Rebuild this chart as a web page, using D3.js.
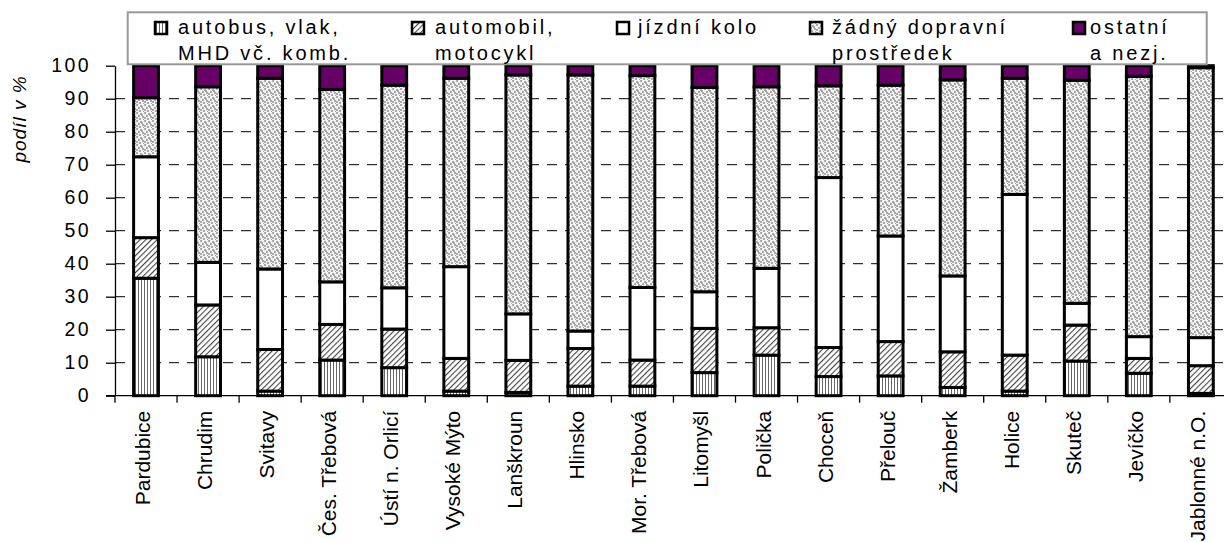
<!DOCTYPE html>
<html lang="cs">
<head>
<meta charset="UTF-8">
<script src="https://d3js.org/d3.v7.min.js"></script>
<style>
  body { margin: 0; background: #fff; }
  text { font-family: "Liberation Sans", Arial, sans-serif; }
</style>
</head>
<body>
<script>
// data (share in %)
var categories = ["Pardubice", "Chrudim", "Svitavy", "Čes. Třebová", "Ústí n. Orlicí", "Vysoké Mýto",
    "Lanškroun", "Hlinsko", "Mor. Třebová", "Litomyšl", "Polička", "Choceň", "Přelouč", "Žamberk",
    "Holice", "Skuteč", "Jevíčko", "Jablonné n.O."];
var bus   = [35.6, 11.8, 1.4, 10.8, 8.5, 1.4, 1.0, 2.9, 2.9, 7.0, 12.3, 5.8, 6.0, 2.5, 1.4, 10.5, 6.8, 0.7];
var car   = [12.3, 15.7, 12.6, 10.8, 11.7, 9.9, 9.7, 11.4, 7.9, 13.4, 8.3, 8.8, 10.4, 10.8, 10.9, 10.9, 4.5, 8.4];
var bike  = [24.5, 12.9, 24.4, 12.9, 12.5, 27.8, 14.1, 5.3, 22.0, 11.1, 18.0, 51.5, 32.0, 23.0, 48.7, 6.6, 6.6, 8.5];
var none  = [17.9, 53.2, 57.8, 58.3, 61.4, 57.1, 72.4, 77.6, 64.2, 61.9, 55.0, 27.8, 45.7, 59.4, 35.2, 67.6, 78.9, 81.8];
var other = [9.7, 6.4, 3.8, 7.2, 5.9, 3.8, 2.8, 2.8, 3.0, 6.6, 6.4, 6.1, 5.9, 4.3, 3.8, 4.4, 3.2, 0.6];
var seriesNames = [["autobus, vlak,", "MHD vč. komb."], ["automobil,", "motocykl"], ["jízdní kolo"],
    ["žádný dopravní", "prostředek"], ["ostatní", "a nezj."]];
var yTicks = [0, 10, 20, 30, 40, 50, 60, 70, 80, 90, 100];
var yTitle = "podíl v %";

var width = 1224, height = 542;
var x0 = 115, band = 62.05, y0 = 395.7, y100 = 65.7;

var svg = d3.select("body").append("svg")
    .attr("width", width).attr("height", height);

// patterns
var defs = svg.append("defs");
var pBus = defs.append("pattern").attr("id", "p0").attr("patternUnits", "userSpaceOnUse")
    .attr("width", 3).attr("height", 3);
pBus.append("rect").attr("width", 3).attr("height", 3).attr("fill", "#fff");
pBus.append("rect").attr("width", 1).attr("height", 3).attr("fill", "#666");

var pCar = defs.append("pattern").attr("id", "p1").attr("patternUnits", "userSpaceOnUse")
    .attr("width", 4).attr("height", 4).attr("patternTransform", "rotate(45)");
pCar.append("rect").attr("width", 4).attr("height", 4).attr("fill", "#fff");
pCar.append("rect").attr("width", 1.1).attr("height", 4).attr("fill", "#444");

var pNone = defs.append("pattern").attr("id", "p3").attr("patternUnits", "userSpaceOnUse")
    .attr("width", 8).attr("height", 8);
pNone.append("rect").attr("width", 8).attr("height", 8).attr("fill", "#f4f4f4");
[[0, 0], [4, 1], [2, 3], [6, 4], [0, 5], [3, 6], [7, 7], [5, 2]].forEach(function(p) {
    pNone.append("rect").attr("x", p[0]).attr("y", p[1]).attr("width", 2).attr("height", 2).attr("fill", "#a8a8a8");
});

var fills = ["url(#p0)", "url(#p1)", "#fff", "url(#p3)", "#660066"];

var xScale = d3.scaleBand().domain(categories)
    .range([x0, x0 + band * categories.length]).paddingInner(0.6).paddingOuter(0.3);
var yScale = d3.scaleLinear().domain([0, 100]).range([y0, y100]);

// gridlines
svg.append("g").selectAll("line").data(yTicks.filter(function(d) { return d > 0 && d < 100; }))
    .enter().append("line")
    .attr("x1", x0).attr("x2", width)
    .attr("y1", function(d) { return yScale(d); }).attr("y2", function(d) { return yScale(d); })
    .attr("stroke", "#000").attr("stroke-width", 1).attr("stroke-dasharray", "10,8");

// stacked bars
var table = categories.map(function(c, i) {
    return { cat: c, s0: bus[i], s1: car[i], s2: bike[i], s3: none[i], s4: other[i] };
});
var stack = d3.stack().keys(["s0", "s1", "s2", "s3", "s4"])(table);

svg.append("g").selectAll("g").data(stack).enter().append("g")
    .attr("fill", function(d, i) { return fills[i]; })
    .selectAll("rect").data(function(d) { return d; }).enter().append("rect")
    .attr("x", function(d) { return xScale(d.data.cat); })
    .attr("width", xScale.bandwidth())
    .attr("y", function(d) { return yScale(d[1]); })
    .attr("height", function(d) { return yScale(d[0]) - yScale(d[1]); })
    .attr("stroke", "#000").attr("stroke-width", 3);

// axes
var yAxis = d3.axisLeft(yScale).tickValues(yTicks).tickSize(9).tickSizeOuter(0);
var gy = svg.append("g").attr("transform", "translate(" + x0 + ",0)").call(yAxis);
gy.select(".domain").attr("stroke", "#000").attr("stroke-width", 1.3);
gy.selectAll(".tick line").attr("stroke", "#000").attr("stroke-width", 1.3);
gy.selectAll(".tick text").attr("x", -24).attr("font-size", 19.5).attr("letter-spacing", "2.4px")
    .attr("font-family", "Liberation Sans, Arial, sans-serif").attr("fill", "#000");

var xAxis = svg.append("g");
xAxis.append("line").attr("x1", x0 - 9).attr("x2", width)
    .attr("y1", y0).attr("y2", y0).attr("stroke", "#000").attr("stroke-width", 1.3);
xAxis.selectAll(".xt").data(d3.range(categories.length + 1)).enter().append("line")
    .attr("x1", function(i) { return x0 + i * band; }).attr("x2", function(i) { return x0 + i * band; })
    .attr("y1", y0).attr("y2", y0 + 7).attr("stroke", "#000").attr("stroke-width", 1.3);
xAxis.selectAll("text").data(categories).enter().append("text")
    .attr("transform", function(d) {
        return "translate(" + (xScale(d) + xScale.bandwidth() / 2 + 4) + "," + (y0 + 15) + ") rotate(-90)";
    })
    .attr("text-anchor", "end").attr("font-size", 21).attr("fill", "#000")
    .text(function(d) { return d; });

svg.append("text")
    .attr("transform", "translate(26," + 119 + ") rotate(-90)")
    .attr("text-anchor", "middle").attr("font-size", 19).attr("font-style", "italic")
    .attr("letter-spacing", "1px")
    .text(yTitle);

// legend
var legendSwatchX = [155, 412, 617, 810, 1073];
var legendTextX = [178, 435, 638, 832, 1090];
var legend = svg.append("g");
legend.append("rect").attr("x", 127.7).attr("y", 12.3).attr("width", 1079).attr("height", 52)
    .attr("fill", "#fff").attr("stroke", "#999").attr("stroke-width", 2);
seriesNames.forEach(function(lines, i) {
    legend.append("rect").attr("x", legendSwatchX[i]).attr("y", 22).attr("width", 12).attr("height", 12)
        .attr("fill", fills[i]).attr("stroke", "#000").attr("stroke-width", 2.5);
    lines.forEach(function(t, j) {
        legend.append("text").attr("x", legendTextX[i]).attr("y", 33.5 + j * 26)
            .attr("font-size", 20).attr("letter-spacing", "2.8px").attr("fill", "#000").text(t);
    });
});
</script>
</body>
</html>
